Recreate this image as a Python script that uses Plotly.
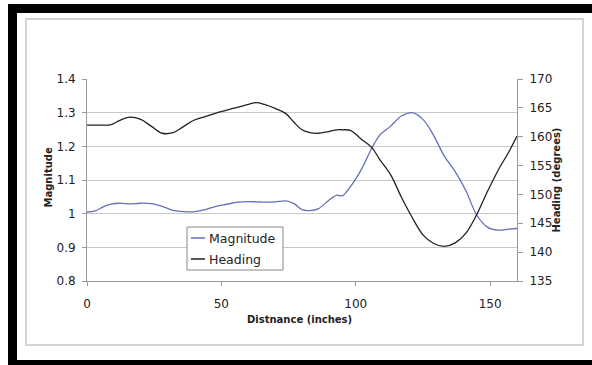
import plotly.graph_objects as go

distance = [0, 3, 6, 9, 12, 16, 20, 24, 28, 32, 36, 40, 44, 48, 52, 56, 60, 63, 66, 70,
            74, 77, 80, 83, 86, 90, 93, 95, 98, 102, 106, 109, 113, 117, 121, 125, 129,
            133, 137, 141, 145, 149, 153, 157, 160]

magnitude = [1.005, 1.008, 1.020, 1.028, 1.031, 1.029, 1.031, 1.030, 1.022, 1.010, 1.006,
             1.006, 1.012, 1.022, 1.028, 1.034, 1.036, 1.035, 1.034, 1.035, 1.038, 1.030,
             1.012, 1.009, 1.014, 1.040, 1.055, 1.053, 1.080, 1.130, 1.195, 1.234, 1.260,
             1.290, 1.300, 1.280, 1.232, 1.170, 1.125, 1.068, 0.996, 0.960, 0.951, 0.954,
             0.956]

heading = [162.0, 162.0, 162.0, 162.1, 162.8, 163.4, 163.0, 161.8, 160.6, 160.7, 161.8,
           162.9, 163.5, 164.1, 164.6, 165.1, 165.6, 165.9, 165.6, 164.9, 164.0, 162.5,
           161.2, 160.7, 160.6, 160.9, 161.2, 161.2, 161.1, 159.6, 158.1, 156.0, 153.4,
           149.5, 146.0, 143.0, 141.5, 141.0, 141.6, 143.3, 146.5, 150.5, 154.2, 157.4,
           160.1]

series_names = ["Magnitude", "Heading"]
series_colors = ["#6470b8", "#222222"]

x_ticks = [0, 50, 100, 150]
mag_ticks = [0.8, 0.9, 1.0, 1.1, 1.2, 1.3, 1.4]
mag_labels = ["0.8", "0.9", "1", "1.1", "1.2", "1.3", "1.4"]
head_ticks = [135, 140, 145, 150, 155, 160, 165, 170]

W, H = 592, 365
L, R, T, B = 87, 517, 79, 281


def px(x):
    return (x - L) / (R - L)


def py(y):
    return (B - y) / (B - T)


font = "DejaVu Sans, Liberation Sans, sans-serif"
tick_font = dict(family=font, size=12, color="#222")
title_font = dict(family=font, size=10, color="#222")

fig = go.Figure()
fig.add_trace(go.Scatter(x=distance, y=magnitude, name=series_names[0], mode="lines",
                         line=dict(color=series_colors[0], width=1.3), line_shape="spline"))
fig.add_trace(go.Scatter(x=distance, y=heading, name=series_names[1], mode="lines",
                         line=dict(color=series_colors[1], width=1.3), line_shape="spline",
                         yaxis="y2"))

shapes = [
    # black frame pieces
    dict(type="rect", xref="paper", yref="paper", x0=px(8), x1=px(17), y0=py(365), y1=py(4),
         fillcolor="black", line=dict(width=0), layer="below"),
    dict(type="rect", xref="paper", yref="paper", x0=px(8), x1=px(592), y0=py(13), y1=py(4),
         fillcolor="black", line=dict(width=0), layer="below"),
    dict(type="rect", xref="paper", yref="paper", x0=px(8), x1=px(592), y0=py(365), y1=py(360),
         fillcolor="black", line=dict(width=0), layer="below"),
    # inner gray frame
    dict(type="rect", xref="paper", yref="paper", x0=px(26), x1=px(583), y0=py(345), y1=py(19),
         fillcolor="rgba(0,0,0,0)", line=dict(color="#d4d4d4", width=2), layer="below"),
    # legend box
    dict(type="rect", xref="paper", yref="paper", x0=px(187), x1=px(283), y0=py(270), y1=py(227),
         fillcolor="white", line=dict(color="#888", width=1), layer="above"),
]

annotations = [
    dict(text="<b>Magnitude</b>", x=px(40), y=py(178), xref="paper", yref="paper",
         showarrow=False, textangle=-90, font=title_font),
    dict(text="<b>Heading (degrees)</b>", x=px(563), y=py(180), xref="paper", yref="paper",
         showarrow=False, textangle=-90, font=title_font),
    dict(text="<b>Distnance (inches)</b>", x=px(299), y=py(327), xref="paper", yref="paper",
         showarrow=False, font=title_font),
]

leg_rows = [238, 259]
for name, color, yrow in zip(series_names, series_colors, leg_rows):
    shapes.append(dict(type="line", xref="paper", yref="paper", x0=px(191), x1=px(205),
                       y0=py(yrow), y1=py(yrow), line=dict(color=color, width=1.5),
                       layer="above"))
    annotations.append(dict(text=name, x=px(207), y=py(yrow), xref="paper", yref="paper",
                            xanchor="left", yanchor="middle", showarrow=False,
                            font=dict(family=font, size=12.5, color="#222")))

fig.update_layout(
    width=W, height=H,
    margin=dict(l=L, r=W - R, t=T, b=H - B),
    paper_bgcolor="white", plot_bgcolor="white",
    font=dict(family=font, size=12, color="#222"),
    showlegend=False,
    xaxis=dict(range=[0, 160], tickvals=x_ticks, showgrid=False, zeroline=False,
               showline=True, linecolor="#999", linewidth=1, ticks="outside",
               ticklen=4, tickcolor="#999", tickfont=tick_font, ticklabelstandoff=8),
    yaxis=dict(range=[0.8, 1.4], tickvals=mag_ticks, ticktext=mag_labels, showgrid=True,
               gridcolor="#c8c8c8", gridwidth=1, zeroline=False, showline=True,
               linecolor="#999", linewidth=1, ticks="outside", ticklen=4, tickcolor="#999",
               tickfont=tick_font, ticklabelstandoff=4),
    yaxis2=dict(range=[135, 170], tickvals=head_ticks, overlaying="y", side="right",
                showgrid=False, zeroline=False, showline=True, linecolor="#999",
                linewidth=1, ticks="outside", ticklen=5, tickcolor="#999",
                tickfont=tick_font, ticklabelstandoff=4),
    shapes=shapes,
    annotations=annotations,
)

fig.write_html("out.html")
